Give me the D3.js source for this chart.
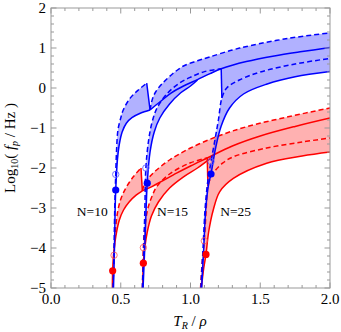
<!DOCTYPE html>
<html>
<head>
<meta charset="utf-8">
<script src="https://cdn.jsdelivr.net/npm/d3@7"></script>
<style>
body { margin: 0; background: #fff; }
svg { display: block; }
</style>
</head>
<body>
<script>
// ticks
var xTicks = [0, 0.5, 1.0, 1.5, 2.0];
var yTicks = [-5, -4, -3, -2, -1, 0, 1, 2];

// blue curves, points are [T_R/rho, log10 f_p]
var blue10Dash = [[0.445,-5],[0.452,-4],[0.457,-3],[0.464,-2.16],[0.47,-1.55],[0.48,-1.05],[0.5,-0.75],[0.518,-0.55],[0.566,-0.26],[0.626,-0.05],[0.686,0.12]];
var blue10Solid = [[0.448,-5],[0.455,-4],[0.46,-3],[0.464,-2.55],[0.476,-1.8],[0.49,-1.4],[0.51,-1.1],[0.54,-0.88],[0.58,-0.74],[0.64,-0.63],[0.71,-0.55]];
var blueTopDash = [[0.71,-0.55],[0.725,-0.3],[0.75,-0.1],[0.8,0.12],[0.87,0.35],[0.95,0.55],[1.05,0.68],[1.14,0.78],[1.3,0.95],[1.43,1.06],[1.7,1.24],[2.0,1.38]];
var blueMidSolid = [[0.71,-0.55],[0.78,-0.35],[0.86,-0.13],[0.95,0.05],[1.05,0.21],[1.14,0.36],[1.22,0.48],[1.4,0.66],[1.6,0.8],[1.8,0.91],[2.0,1.01]];
var blue15Dash = [[0.655,-5],[0.665,-4],[0.673,-3],[0.68,-2.0],[0.7,-1.3],[0.725,-0.85],[0.76,-0.5],[0.83,-0.15],[0.92,0.12],[1.0,0.27],[1.1,0.41],[1.22,0.48]];
var blue15Solid = [[0.66,-5],[0.672,-4],[0.682,-3],[0.69,-2.38],[0.71,-1.6],[0.74,-1.1],[0.78,-0.75],[0.85,-0.4],[0.93,-0.12],[1.0,0.05],[1.05,0.2]];
var blue25Dash = [[1.075,-5],[1.09,-4],[1.105,-3],[1.125,-2.3],[1.147,-1.84],[1.175,-1.3],[1.2,-0.8],[1.225,-0.25],[1.26,0.0],[1.35,0.2],[1.5,0.4],[1.75,0.6],[2.0,0.74]];
var blue25Solid = [[1.08,-5],[1.095,-4],[1.11,-3],[1.13,-2.4],[1.147,-2.15],[1.18,-1.5],[1.22,-0.95],[1.28,-0.5],[1.38,-0.15],[1.55,0.1],[1.75,0.28],[2.0,0.41]];

// red curves
var red10Dash = [[0.443,-5],[0.448,-4.6],[0.452,-4.18],[0.46,-3.65],[0.475,-3.15],[0.5,-2.78],[0.54,-2.48],[0.59,-2.22],[0.645,-2.0]];
var red10Solid = [[0.44,-5],[0.442,-4.57],[0.45,-4.1],[0.465,-3.7],[0.49,-3.3],[0.52,-3.05],[0.56,-2.85],[0.61,-2.68],[0.655,-2.57]];
var redTopDash = [[0.655,-2.57],[0.67,-2.4],[0.7,-2.25],[0.75,-2.07],[0.85,-1.8],[1.0,-1.5],[1.2,-1.2],[1.4,-0.97],[1.7,-0.72],[2.0,-0.5]];
var redMidSolid = [[0.655,-2.57],[0.72,-2.47],[0.8,-2.32],[0.9,-2.13],[1.0,-1.95],[1.12,-1.75],[1.3,-1.45],[1.5,-1.2],[1.75,-0.96],[2.0,-0.75]];
var red15Dash = [[0.655,-5],[0.659,-4.4],[0.662,-3.99],[0.672,-3.5],[0.695,-3.0],[0.725,-2.7],[0.757,-2.47],[0.85,-2.15],[1.0,-1.87],[1.12,-1.75]];
var red15Solid = [[0.658,-5],[0.662,-4.38],[0.672,-4.0],[0.69,-3.6],[0.72,-3.2],[0.77,-2.85],[0.85,-2.5],[0.95,-2.22],[1.05,-2.0],[1.15,-1.74]];
var red25Dash = [[1.072,-5],[1.085,-4.3],[1.099,-3.82],[1.113,-3.0],[1.125,-2.45],[1.163,-2.13],[1.23,-1.88],[1.307,-1.72],[1.546,-1.5],[1.8,-1.35],[2.0,-1.25]];
var red25Solid = [[1.078,-5],[1.095,-4.5],[1.111,-4.16],[1.13,-3.6],[1.163,-3.05],[1.21,-2.59],[1.307,-2.26],[1.546,-1.88],[1.8,-1.7],[2.0,-1.6]];

// markers
var blueFilled = [[0.464,-2.55],[0.69,-2.38],[1.147,-2.15]];
var blueOpen = [[0.464,-2.16],[0.68,-2.0],[1.147,-1.84]];
var redFilled = [[0.442,-4.57],[0.662,-4.38],[1.111,-4.16]];
var redOpen = [[0.452,-4.18],[0.662,-3.99],[1.099,-3.82]];

var labels = [["N=10", 0.185, -3.2], ["N=15", 0.76, -3.2], ["N=25", 1.213, -3.2]];

var width = 341, height = 332;
var x = d3.scaleLinear().domain([0, 2]).range([51, 330]);
var y = d3.scaleLinear().domain([-5, 2]).range([288, 8]);

var svg = d3.select("body").append("svg")
    .attr("width", width)
    .attr("height", height)
    .attr("font-family", "'Liberation Serif', 'Times New Roman', serif");

svg.append("defs").append("clipPath").attr("id", "plotclip")
  .append("rect").attr("x", 51).attr("y", 8).attr("width", 279).attr("height", 280);

var g = svg.append("g").attr("clip-path", "url(#plotclip)");

var line = d3.line()
    .x(function(d) { return x(d[0]); })
    .y(function(d) { return y(d[1]); })
    .curve(d3.curveCatmullRom.alpha(0.5));

function rev(a) { return a.slice().reverse(); }
function upto(a, t) { return a.filter(function(d) { return d[0] <= t + 1e-9; }); }
function from(a, t) { return a.filter(function(d) { return d[0] >= t - 1e-9; }); }

// closed outline made of several smooth pieces joined by straight segments
function poly(layer, chains, color) {
    var d = "";
    chains.forEach(function(c, i) {
        var p = line(c);
        d += i ? "L" + p.slice(1) : p;
    });
    layer.append("path").attr("d", d + "Z").attr("fill", color).attr("stroke", "none");
}

function curve(pts, color, dashed) {
    g.append("path")
        .attr("d", line(pts))
        .attr("fill", "none")
        .attr("stroke", color)
        .attr("stroke-width", 1.5)
        .attr("stroke-dasharray", dashed ? "5,3" : null);
}

function drawSet(c, color, notchT) {
    // fills go in one group so overlaps inside a colour don't darken
    var fills = g.append("g").attr("opacity", 0.3);
    poly(fills, [c.d10, rev(c.s10)], color);
    poly(fills, [c.top, rev(from(c.d25, notchT + 0.005)), rev(upto(c.mid, notchT))], color);
    poly(fills, [c.d15, rev(c.s15)], color);
    poly(fills, [c.d25, rev(c.s25)], color);

    curve(c.s10, color, false);
    curve(c.d10, color, true);
    curve(c.s15, color, false);
    curve(c.d15, color, true);
    curve(c.s25, color, false);
    curve(c.d25, color, true);
    curve(c.mid, color, false);
    curve(c.top, color, true);
    // jumps
    var p = c.d10[c.d10.length - 1], q = c.s10[c.s10.length - 1];
    curve([p, q], color, false);
    var a = upto(c.mid, notchT), b = from(c.d25, notchT + 0.005);
    curve([a[a.length - 1], b[0]], color, false);
}

drawSet({d10: red10Dash, s10: red10Solid, top: redTopDash, mid: redMidSolid,
         d15: red15Dash, s15: red15Solid, d25: red25Dash, s25: red25Solid}, "#f00", 1.12);
drawSet({d10: blue10Dash, s10: blue10Solid, top: blueTopDash, mid: blueMidSolid,
         d15: blue15Dash, s15: blue15Solid, d25: blue25Dash, s25: blue25Solid}, "#00f", 1.22);

// markers
function dots(pts, color, filled) {
    g.selectAll(null).data(pts).enter().append("circle")
        .attr("cx", function(d) { return x(d[0]); })
        .attr("cy", function(d) { return y(d[1]); })
        .attr("r", filled ? 3.6 : 3.2)
        .attr("fill", filled ? color : "none")
        .attr("stroke", color)
        .attr("stroke-width", filled ? 0 : 0.8);
}
dots(redOpen, "#f55", false);
dots(redFilled, "#f00", true);
dots(blueOpen, "#55f", false);
dots(blueFilled, "#00f", true);

// N labels
svg.selectAll(".nlab").data(labels).enter().append("text")
    .attr("x", function(d) { return x(d[1]); })
    .attr("y", function(d) { return y(d[2]); })
    .attr("font-size", 13.5)
    .text(function(d) { return d[0]; });

// frame and ticks
var frame = svg.append("g").attr("stroke", "#999").attr("fill", "none").attr("stroke-width", 1);
frame.append("rect").attr("x", 51).attr("y", 8).attr("width", 279).attr("height", 280);

d3.range(0, 2.001, 0.1).forEach(function(t) {
    var major = Math.abs(t * 2 - Math.round(t * 2)) < 1e-6;
    var len = major ? 5.5 : 3;
    frame.append("line").attr("x1", x(t)).attr("x2", x(t)).attr("y1", 288).attr("y2", 288 - len);
    frame.append("line").attr("x1", x(t)).attr("x2", x(t)).attr("y1", 8).attr("y2", 8 + len);
});
d3.range(-5, 2.001, 0.2).forEach(function(v) {
    var major = Math.abs(v - Math.round(v)) < 1e-6;
    var len = major ? 5.5 : 3;
    frame.append("line").attr("y1", y(v)).attr("y2", y(v)).attr("x1", 51).attr("x2", 51 + len);
    frame.append("line").attr("y1", y(v)).attr("y2", y(v)).attr("x1", 330).attr("x2", 330 - len);
});

svg.selectAll(".xt").data(xTicks).enter().append("text")
    .attr("x", function(d) { return x(d); })
    .attr("y", 304)
    .attr("text-anchor", "middle")
    .attr("font-size", 15)
    .text(function(d) { return d.toFixed(1); });

svg.selectAll(".yt").data(yTicks).enter().append("text")
    .attr("x", 46)
    .attr("y", function(d) { return y(d) + 5; })
    .attr("text-anchor", "end")
    .attr("font-size", 15)
    .text(function(d) { return d < 0 ? "\u2212" + (-d) : d; });

// axis titles
var xl = svg.append("text")
    .attr("x", 190)
    .attr("y", 326)
    .attr("text-anchor", "middle")
    .attr("font-size", 15);
xl.append("tspan").attr("font-style", "italic").text("T");
xl.append("tspan").attr("font-style", "italic").attr("font-size", 10).attr("dy", 3).text("R");
xl.append("tspan").attr("dy", -3).text(" / ");
xl.append("tspan").attr("font-style", "italic").text("\u03c1");

var yl = svg.append("text")
    .attr("transform", "translate(15,148) rotate(-90)")
    .attr("text-anchor", "middle")
    .attr("font-size", 15);
yl.append("tspan").text("Log");
yl.append("tspan").attr("font-size", 10).attr("dy", 3).text("10");
yl.append("tspan").attr("dy", -3).text("( ");
yl.append("tspan").attr("font-style", "italic").text("f");
yl.append("tspan").attr("font-style", "italic").attr("font-size", 10).attr("dy", 3).text("p");
yl.append("tspan").attr("dy", -3).text(" / Hz )");
</script>
</body>
</html>
